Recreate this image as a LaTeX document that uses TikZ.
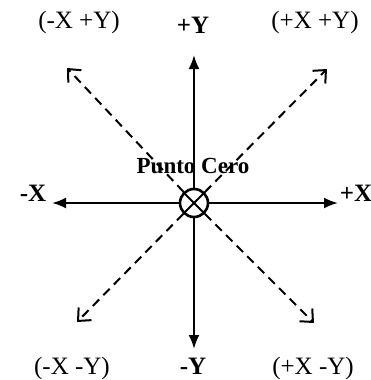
\documentclass[tikz,border=0pt]{standalone}
\usepackage{fontspec}
\setmainfont{Liberation Serif}
\usetikzlibrary{arrows.meta}
\begin{document}
\begin{tikzpicture}[x=1pt,y=-1pt,
  lbl/.style={inner sep=0pt, font=\fontsize{25}{27}\selectfont},
  blbl/.style={inner sep=0pt, font=\fontsize{25}{27}\selectfont\bfseries},
  axis/.style={line width=2.2pt, -{Latex[length=14pt,width=11pt]}},
  diag/.style={line width=2pt, dash pattern=on 9pt off 6pt, -{Straight Barb[length=10pt,width=18pt,line width=2pt]}}]
\useasboundingbox (0,0) rectangle (371,380);
\coordinate (O) at (194,203);
\node[circle, draw, line width=2.6pt, minimum size=28pt, inner sep=0pt] (c) at (O) {};
\draw[line width=1.8pt] (c.45) -- (c.225) (c.135) -- (c.315);
\coordinate (top) at (194,55);
\coordinate (bot) at (194,349);
\coordinate (lft) at (52,203);
\coordinate (rgt) at (338,203);
\coordinate (ul) at (67,68);
\coordinate (ur) at (327,69);
\coordinate (ll) at (77,322);
\coordinate (lr) at (314,323);
\draw[axis] (c.north) -- (top);
\draw[axis] (c.south) -- (bot);
\draw[axis] (c.west) -- (lft);
\draw[axis] (c.east) -- (rgt);
\draw[diag] (c) -- (ul);
\draw[diag] (c) -- (ur);
\draw[diag] (c) -- (ll);
\draw[diag] (c) -- (lr);
\node[blbl] (py) at (193,25) {+Y};
\node[blbl] (my) at (193,366) {-Y};
\node[blbl] (mx) at (33,193) {-X};
\node[blbl] (px) at (356,193) {+X};
\node[lbl] (q2) at (79,22) {(-X +Y)};
\node[lbl] (q1) at (315,22) {(+X +Y)};
\node[lbl] (q3) at (72,368) {(-X -Y)};
\node[lbl] (q4) at (313,368) {(+X -Y)};
\node[blbl, font=\fontsize{23}{25}\selectfont\bfseries] (pc) at (193,166) {Punto Cero};
\end{tikzpicture}
\end{document}
